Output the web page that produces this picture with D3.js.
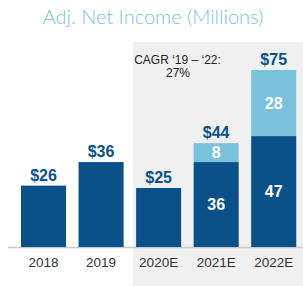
<!DOCTYPE html>
<html>
<head>
<meta charset="utf-8">
<script src="https://cdn.jsdelivr.net/npm/d3@7"></script>
<style>
  body { margin: 0; background: #fff; }
  svg { display: block; font-family: Arial, "Liberation Sans", sans-serif; }
</style>
</head>
<body>
<div id="chart-area"></div>
<script>
// data
var years = ["2018", "2019", "2020E", "2021E", "2022E"];
var baseValues = [26, 36, 25, 36, 47];
var extraValues = [0, 0, 0, 8, 28];
var totalLabels = ["$26", "$36", "$25", "$44", "$75"];

var width = 303, height = 286;
var baseY = 247;

var svg = d3.select("#chart-area").append("svg")
    .attr("width", width)
    .attr("height", height);

// shaded forecast panel
svg.append("rect")
    .attr("x", 133).attr("y", 42)
    .attr("width", width - 133).attr("height", height - 42)
    .attr("fill", "#f0f0f0");

svg.append("text")
    .attr("x", 153).attr("y", 24)
    .attr("text-anchor", "middle")
    .attr("font-family", "Lato, 'Noto Sans', sans-serif")
    .attr("font-weight", 300)
    .attr("font-size", 20)
    .attr("fill", "#7cc3d9")
    .text("Adj. Net Income (Millions)");

var x = d3.scaleBand()
    .domain(years)
    .range([14.75, 302.5])
    .paddingInner(0.217)
    .paddingOuter(0.1087);
var y = d3.scaleLinear()
    .domain([0, 75])
    .range([baseY, 70]);

var rows = years.map(function(d, i) {
    return { year: d, base: baseValues[i], extra: extraValues[i], label: totalLabels[i] };
});

// baseline
svg.append("line")
    .attr("x1", 8).attr("x2", width)
    .attr("y1", baseY + 0.5).attr("y2", baseY + 0.5)
    .attr("stroke", "#c8c8c8").attr("stroke-width", 1.5);

svg.selectAll("rect.base").data(rows).enter().append("rect")
    .attr("class", "base")
    .attr("x", function(d) { return x(d.year); })
    .attr("y", function(d) { return y(d.base); })
    .attr("width", x.bandwidth())
    .attr("height", function(d) { return y(0) - y(d.base); })
    .attr("fill", "#0b5189");

svg.selectAll("rect.extra").data(rows.filter(function(d) { return d.extra > 0; })).enter().append("rect")
    .attr("class", "extra")
    .attr("x", function(d) { return x(d.year); })
    .attr("y", function(d) { return y(d.base + d.extra); })
    .attr("width", x.bandwidth())
    .attr("height", function(d) { return y(d.base) - y(d.base + d.extra); })
    .attr("fill", "#7ac2dc");

// total labels
svg.selectAll("text.total").data(rows).enter().append("text")
    .attr("class", "total")
    .attr("x", function(d) { return x(d.year) + x.bandwidth() / 2; })
    .attr("y", function(d) { return y(d.base + d.extra) - 5; })
    .attr("text-anchor", "middle")
    .attr("font-weight", "bold")
    .attr("font-size", 16)
    .attr("fill", "#0b5189")
    .text(function(d) { return d.label; });

// inside segment labels for stacked bars
var stacked = rows.filter(function(d) { return d.extra > 0; });
svg.selectAll("text.inBase").data(stacked).enter().append("text")
    .attr("class", "inBase")
    .attr("x", function(d) { return x(d.year) + x.bandwidth() / 2; })
    .attr("y", function(d) { return (y(d.base) + y(0)) / 2 + 5; })
    .attr("text-anchor", "middle")
    .attr("font-weight", "bold")
    .attr("font-size", 16)
    .attr("fill", "#fff")
    .text(function(d) { return d.base; });
svg.selectAll("text.inExtra").data(stacked).enter().append("text")
    .attr("class", "inExtra")
    .attr("x", function(d) { return x(d.year) + x.bandwidth() / 2; })
    .attr("y", function(d) { return (y(d.base + d.extra) + y(d.base)) / 2 + 5.5; })
    .attr("text-anchor", "middle")
    .attr("font-weight", "bold")
    .attr("font-size", 16)
    .attr("fill", "#fff")
    .text(function(d) { return d.extra; });

// x axis
var xAxis = d3.axisBottom(x).tickSize(0).tickPadding(0);
var gx = svg.append("g")
    .attr("transform", "translate(0," + 257 + ")")
    .call(xAxis);
gx.select(".domain").remove();
gx.selectAll("text")
    .attr("dy", "0.71em")
    .attr("font-family", "Arial, 'Liberation Sans', sans-serif")
    .attr("font-size", 13.5)
    .attr("fill", "#333");

// CAGR note
svg.append("text")
    .attr("x", 177.5).attr("y", 64)
    .attr("text-anchor", "middle")
    .attr("font-size", 12)
    .attr("fill", "#222")
    .text("CAGR \u201819 \u2013 \u201822:");
svg.append("text")
    .attr("x", 178).attr("y", 77)
    .attr("text-anchor", "middle")
    .attr("font-size", 12)
    .attr("fill", "#222")
    .text("27%");
</script>
</body>
</html>
